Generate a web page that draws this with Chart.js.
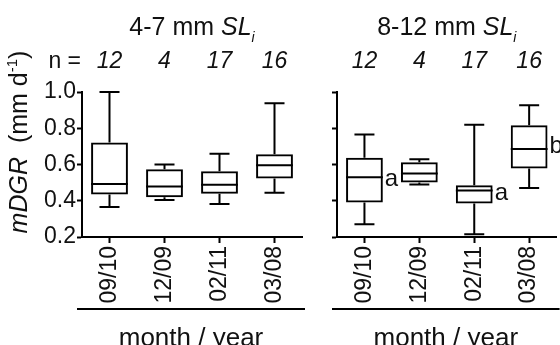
<!DOCTYPE html>
<html>
<head>
<meta charset="utf-8">
<script src="https://cdn.jsdelivr.net/npm/chart.js@4/dist/chart.umd.min.js"></script>
<style>
  html, body { margin: 0; padding: 0; background: #fff; }
  #wrap { position: relative; width: 560px; height: 345px; overflow: hidden; }
  canvas { position: absolute; top: 0; }
  #small { left: 0; }
  #large { left: 310px; }
</style>
</head>
<body>
<div id="wrap">
  <canvas id="small" width="310" height="345"></canvas>
  <canvas id="large" width="250" height="345"></canvas>
</div>
<script>
'use strict';

var months = ['09/10', '12/09', '02/11', '03/08'];
var counts = [12, 4, 17, 16];

// 4-7 mm SLi
var smallMin = [0.365, 0.404, 0.382, 0.444];
var smallQ1 = [0.435, 0.419, 0.438, 0.523];
var smallMedian = [0.493, 0.479, 0.488, 0.596];
var smallQ3 = [0.721, 0.574, 0.563, 0.657];
var smallMax = [1.0, 0.600, 0.659, 0.938];

// 8-12 mm SLi
var largeMin = [0.270, 0.490, 0.215, 0.470];
var largeQ1 = [0.391, 0.501, 0.385, 0.578];
var largeMedian = [0.530, 0.551, 0.457, 0.686];
var largeQ3 = [0.637, 0.613, 0.486, 0.817];
var largeMax = [0.765, 0.629, 0.820, 0.927];
var largeLetters = ['a', '', 'a', 'b'];

var FAM = '"Liberation Sans", Arial, Helvetica, sans-serif';
Chart.defaults.font.family = FAM;
Chart.defaults.color = '#111';

// draws a row of differently styled text pieces one after another
function drawRuns(ctx, runs, x, y, align) {
    var total = 0;
    runs.forEach(function (r) {
        ctx.font = r.font;
        r.w = ctx.measureText(r.text).width;
        total += r.w;
    });
    var cx = align === 'center' ? x - total / 2 : (align === 'right' ? x - total : x);
    ctx.textAlign = 'left';
    ctx.textBaseline = 'alphabetic';
    runs.forEach(function (r) {
        ctx.font = r.font;
        ctx.fillText(r.text, cx, y + (r.dy || 0));
        cx += r.w;
    });
}

function boxChart(id, cfg) {
    var boxPlugin = {
        id: 'boxExtras',
        afterDatasetsDraw: function (chart) {
            var ctx = chart.ctx;
            var y = chart.scales.y;
            var bars = chart.getDatasetMeta(0).data;
            ctx.save();
            ctx.strokeStyle = '#000';
            ctx.lineWidth = 2;
            ctx.lineCap = 'butt';
            bars.forEach(function (bar, i) {
                var half = bar.width / 2;
                var yMin = y.getPixelForValue(cfg.min[i]);
                var yMax = y.getPixelForValue(cfg.max[i]);
                var yQ1 = y.getPixelForValue(cfg.q1[i]);
                var yQ3 = y.getPixelForValue(cfg.q3[i]);
                var yMed = y.getPixelForValue(cfg.median[i]);
                ctx.beginPath();
                // whiskers
                ctx.moveTo(bar.x, yQ3); ctx.lineTo(bar.x, yMax);
                ctx.moveTo(bar.x, yQ1); ctx.lineTo(bar.x, yMin);
                // caps
                ctx.moveTo(bar.x - 10, yMax); ctx.lineTo(bar.x + 10, yMax);
                ctx.moveTo(bar.x - 10, yMin); ctx.lineTo(bar.x + 10, yMin);
                // median
                ctx.moveTo(bar.x - half, yMed); ctx.lineTo(bar.x + half, yMed);
                ctx.stroke();

                if (cfg.letters && cfg.letters[i]) {
                    ctx.fillStyle = '#111';
                    ctx.font = '24px ' + FAM;
                    ctx.textAlign = 'left';
                    ctx.textBaseline = 'alphabetic';
                    ctx.fillText(cfg.letters[i], bar.x + half + 2, (yQ1 + yQ3) / 2 + 6);
                }
            });
            ctx.restore();
        },
        afterDraw: function (chart) {
            var ctx = chart.ctx;
            var area = chart.chartArea;
            var x = chart.scales.x;
            var mid = (area.left + area.right) / 2;
            ctx.save();
            ctx.fillStyle = '#111';

            // panel heading
            drawRuns(ctx, [
                { text: cfg.size + ' mm ', font: '25px ' + FAM },
                { text: 'SL', font: 'italic 25px ' + FAM },
                { text: 'i', font: 'italic 14px ' + FAM, dy: 7 }
            ], mid, 35, 'center');

            // sample sizes
            if (cfg.showN) {
                ctx.font = '23px ' + FAM;
                ctx.textAlign = 'right';
                ctx.fillText('n =', area.left - 1, 68);
            }
            ctx.font = 'italic 23px ' + FAM;
            ctx.textAlign = 'center';
            counts.forEach(function (n, i) {
                ctx.fillText(String(n), x.getPixelForValue(i), 68);
            });

            // axis title
            if (cfg.yTitle) {
                ctx.save();
                ctx.translate(27, 142);
                ctx.rotate(-Math.PI / 2);
                drawRuns(ctx, [
                    { text: 'mDGR', font: 'italic 25px ' + FAM },
                    { text: '  (mm d', font: '25px ' + FAM },
                    { text: '-1', font: '15px ' + FAM, dy: -10 },
                    { text: ')', font: '25px ' + FAM }
                ], 0, 0, 'center');
                ctx.restore();
            }

            // bar under the month labels
            var x0 = area.left - 5;
            var x1 = area.right + 3;
            ctx.strokeStyle = '#000';
            ctx.lineWidth = 2;
            ctx.beginPath();
            ctx.moveTo(x0, 309);
            ctx.lineTo(x1, 309);
            ctx.stroke();
            ctx.font = '26px ' + FAM;
            ctx.textAlign = 'center';
            ctx.fillText('month / year', (x0 + x1) / 2, 346);
            ctx.restore();
        }
    };

    return new Chart(document.getElementById(id), {
        type: 'bar',
        data: {
            labels: months,
            datasets: [{
                data: cfg.q1.map(function (v, i) { return [v, cfg.q3[i]]; }),
                backgroundColor: 'rgba(255, 255, 255, 0)',
                borderColor: '#000',
                borderWidth: 2,
                borderSkipped: false,
                barPercentage: 0.67,
                categoryPercentage: 1
            }]
        },
        options: {
            responsive: false,
            animation: false,
            events: [],
            layout: { padding: { top: 92, right: cfg.padRight, left: 0, bottom: 0 } },
            plugins: {
                legend: { display: false },
                tooltip: { enabled: false }
            },
            scales: {
                x: {
                    offset: true,
                    grid: {
                        display: true, drawOnChartArea: false, drawTicks: true,
                        tickLength: 6, tickWidth: 2, tickColor: '#000', offset: false
                    },
                    border: { display: true, width: 2, color: '#000' },
                    ticks: {
                        minRotation: 90, maxRotation: 90, autoSkip: false,
                        padding: 3, font: { size: 23 }
                    },
                    afterFit: function (s) { s.height = 108; }
                },
                y: {
                    min: 0.2,
                    max: 1.0,
                    grid: {
                        display: true, drawOnChartArea: false, drawTicks: true,
                        tickLength: 5, tickWidth: 2, tickColor: '#000'
                    },
                    border: { display: true, width: 2, color: '#000' },
                    ticks: {
                        stepSize: 0.2,
                        padding: 1,
                        display: cfg.yLabels,
                        font: { size: 23 },
                        callback: function (v) { return Number(v).toFixed(1); }
                    },
                    afterFit: function (s) { s.width = cfg.yWidth; }
                }
            }
        },
        plugins: [boxPlugin]
    });
}

boxChart('small', {
    size: '4-7', min: smallMin, q1: smallQ1, median: smallMedian, q3: smallQ3, max: smallMax,
    showN: true, yTitle: true, yLabels: true, yWidth: 82, padRight: 8
});

boxChart('large', {
    size: '8-12', min: largeMin, q1: largeQ1, median: largeMedian, q3: largeQ3, max: largeMax,
    letters: largeLetters, showN: false, yTitle: false, yLabels: false, yWidth: 27, padRight: 2
});
</script>
</body>
</html>
